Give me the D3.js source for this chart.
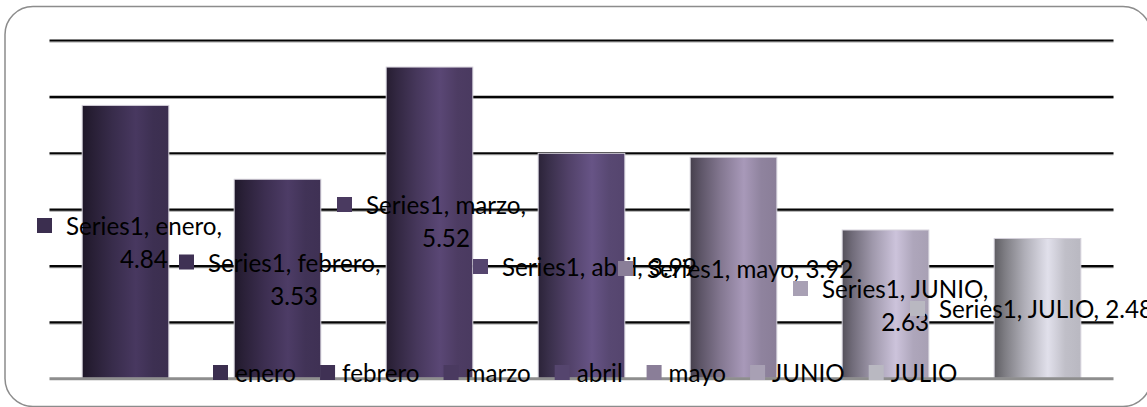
<!DOCTYPE html>
<html>
<head>
<meta charset="utf-8">
<script src="https://cdn.jsdelivr.net/npm/d3@7"></script>
<style>
  html, body { margin: 0; padding: 0; background: #fff; }
  svg { display: block; }
</style>
</head>
<body>
<div id="chart"></div>
<script>
// ---- data ----
const categories = ["enero", "febrero", "marzo", "abril", "mayo", "JUNIO", "JULIO"];
const values = [4.84, 3.53, 5.52, 3.99, 3.92, 2.63, 2.48];
const seriesName = "Series1";
const gridTicks = [1, 2, 3, 4, 5, 6];
const barColors = ["#3b2e4f", "#3f3154", "#4a3a60", "#55456e", "#8a7e98", "#a8a0b4", "#b9b8c1"];

// ---- layout (label anchors: text start x, first baseline, wrapped or not) ----
const labelLayout = [
  { x: 66, y: 235, wrap: true },
  { x: 208, y: 271.5, wrap: true },
  { x: 366, y: 214, wrap: true },
  { x: 502, y: 276, wrap: false },
  { x: 647, y: 278, wrap: false },
  { x: 822, y: 298, wrap: true },
  { x: 939, y: 318, wrap: false }
];

const W = 1147, H = 407;
const svg = d3.select("#chart").append("svg").attr("width", W).attr("height", H);
const defs = svg.append("defs");

// font size fitted to match the reference's label width
const FONT = "Lato, 'Open Sans', sans-serif";
const probe = svg.append("text").attr("font-family", FONT).attr("font-size", 100)
  .text(seriesName + ", " + categories[0] + ",");
const probeW = probe.node().getComputedTextLength();
probe.remove();
const fs = 100 * 156 / probeW;

// outer rounded frame
svg.append("rect")
  .attr("x", 5).attr("y", 6.5).attr("width", 1146).attr("height", 400)
  .attr("rx", 28).attr("ry", 28)
  .attr("fill", "#fff").attr("stroke", "#8c8c8c").attr("stroke-width", 1.5);

const x = d3.scaleBand().domain(categories).range([49.5, 1113.5])
  .paddingInner(0.43).paddingOuter(0.215);
const y = d3.scaleLinear().domain([0, 6]).range([378.3, 40]);

// gridlines (shadow + line)
const gShadow = svg.append("g").attr("transform", "translate(49.5,1.5)")
  .call(d3.axisLeft(y).tickValues(gridTicks).tickSize(-(1113.5 - 49.5)).tickFormat(""));
gShadow.select(".domain").remove();
gShadow.selectAll(".tick line").attr("stroke", "#a0a0a0").attr("stroke-width", 1.2);

const gGrid = svg.append("g").attr("transform", "translate(49.5,0)")
  .call(d3.axisLeft(y).tickValues(gridTicks).tickSize(-(1113.5 - 49.5)).tickFormat(""));
gGrid.select(".domain").remove();
gGrid.selectAll(".tick line").attr("stroke", "#050505").attr("stroke-width", 2.2);

// gradients for cylinder look
barColors.forEach((c, i) => {
  const base = d3.color(c);
  const g = defs.append("linearGradient").attr("id", "grad" + i)
    .attr("x1", "0%").attr("x2", "100%").attr("y1", "0%").attr("y2", "0%");
  g.append("stop").attr("offset", "0%").attr("stop-color", base.darker(1.9).formatHex());
  g.append("stop").attr("offset", "12%").attr("stop-color", base.darker(1.1).formatHex());
  g.append("stop").attr("offset", "35%").attr("stop-color", base.darker(0.15).formatHex());
  g.append("stop").attr("offset", "62%").attr("stop-color", base.brighter(0.55).formatHex());
  g.append("stop").attr("offset", "82%").attr("stop-color", base.brighter(0.1).formatHex());
  g.append("stop").attr("offset", "100%").attr("stop-color", base.formatHex());
});

// bars
svg.append("g").selectAll("rect").data(values).join("rect")
  .attr("x", (d, i) => x(categories[i]))
  .attr("y", d => y(d))
  .attr("width", x.bandwidth())
  .attr("height", d => y(0) - y(d))
  .attr("fill", (d, i) => "url(#grad" + i + ")")
  .attr("stroke", "#d4d0da").attr("stroke-width", 1);

// baseline
svg.append("line").attr("x1", 49.5).attr("x2", 1113.5)
  .attr("y1", y(0) + 0.5).attr("y2", y(0) + 0.5)
  .attr("stroke", "#8e8e8e").attr("stroke-width", 3);

// legend
const legend = svg.append("g");
let lx = 213;
categories.forEach((c, i) => {
  legend.append("rect").attr("x", lx).attr("y", 365).attr("width", 15).attr("height", 15)
    .attr("fill", barColors[i]);
  const t = legend.append("text").attr("x", lx + 22).attr("y", 381.5)
    .attr("font-family", FONT).attr("font-size", fs).attr("fill", "#000").text(c);
  lx = lx + 22 + t.node().getComputedTextLength() + 24;
});

// data labels
const labels = svg.append("g");
values.forEach((v, i) => {
  const L = labelLayout[i];
  const cat = categories[i];
  labels.append("rect").attr("x", L.x - 29).attr("y", L.y - 17)
    .attr("width", 15).attr("height", 15).attr("fill", barColors[i]);
  if (L.wrap) {
    const t1 = labels.append("text").attr("x", L.x).attr("y", L.y)
      .attr("font-family", FONT).attr("font-size", fs).attr("fill", "#000")
      .text(seriesName + ", " + cat + ",");
    const cx = L.x + t1.node().getComputedTextLength() / 2;
    labels.append("text").attr("x", cx).attr("y", L.y + 33)
      .attr("text-anchor", "middle")
      .attr("font-family", FONT).attr("font-size", fs).attr("fill", "#000")
      .text(v.toFixed(2));
  } else {
    labels.append("text").attr("x", L.x).attr("y", L.y)
      .attr("font-family", FONT).attr("font-size", fs).attr("fill", "#000")
      .text(seriesName + ", " + cat + ", " + v.toFixed(2));
  }
});
</script>
</body>
</html>
